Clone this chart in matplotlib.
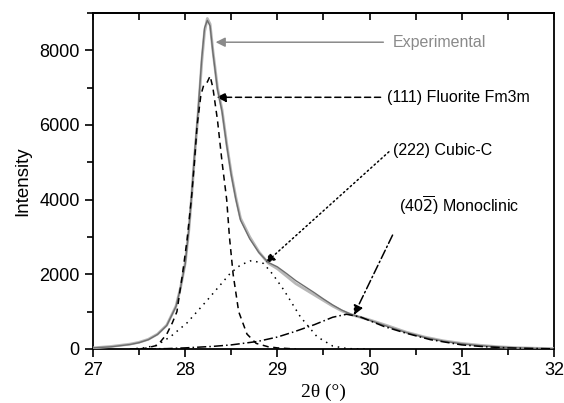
import matplotlib
matplotlib.use("Agg")
import matplotlib.pyplot as plt
from matplotlib.ticker import MultipleLocator

plt.rcParams['font.family'] = ['Liberation Sans', 'DejaVu Sans']

# Experimental profile
exp_x = [27.0, 27.2, 27.4, 27.5, 27.6, 27.7, 27.8, 27.9, 27.95, 28.0, 28.04, 28.07, 28.1,
         28.14, 28.18, 28.21, 28.24, 28.27, 28.3, 28.35, 28.4, 28.45, 28.5, 28.55, 28.6,
         28.7, 28.8, 28.9, 29.0, 29.1, 29.2, 29.3, 29.4, 29.5, 29.6, 29.7, 29.8, 29.9,
         30.0, 30.2, 30.4, 30.6, 30.8, 31.0, 31.2, 31.4, 31.6, 31.8, 32.0]
exp_y = [30, 70, 130, 180, 260, 400, 640, 1150, 1650, 2300, 3200, 4100, 5100,
         6300, 7700, 8500, 8850, 8700, 8000, 7000, 6400, 5500, 4700, 4050, 3500,
         3000, 2600, 2300, 2150, 1950, 1750, 1600, 1450, 1300, 1150, 1020, 920, 850,
         780, 620, 450, 320, 220, 150, 100, 60, 35, 20, 10]

# Fitted sum profile
fit_x = exp_x
fit_y = [30, 60, 120, 170, 250, 390, 630, 1140, 1650, 2280, 3200, 4150, 5200,
         6400, 7800, 8600, 8800, 8650, 7950, 6950, 6350, 5450, 4650, 4000, 3450,
         2950, 2580, 2320, 2200, 2020, 1830, 1670, 1510, 1340, 1180, 1040, 930, 850,
         770, 600, 440, 310, 210, 140, 90, 55, 30, 15, 8]

# (111) Fluorite Fm3m component
flu_x = [27.4, 27.55, 27.7, 27.8, 27.86, 27.91, 27.97, 28.02, 28.07, 28.1, 28.13,
         28.17, 28.2, 28.24, 28.27, 28.3, 28.35, 28.4, 28.45, 28.48, 28.52, 28.58,
         28.67, 28.77, 28.9, 29.0, 29.2]
flu_y = [0, 10, 100, 400, 700, 1000, 2000, 2920, 4100, 5000, 6000,
         6800, 7060, 7150, 7310, 7000, 6130, 5000, 4000, 3000, 2000, 1000,
         400, 150, 60, 30, 0]

# (222) Cubic-C component
cub_x = [27.4, 27.55, 27.69, 27.84, 28.02, 28.24, 28.49, 28.6, 28.72, 28.85, 28.95,
         29.07, 29.25, 29.43, 29.6, 29.76, 30.0]
cub_y = [0, 30, 100, 330, 700, 1310, 2030, 2250, 2370, 2290, 2000,
         1580, 860, 330, 80, 10, 0]

# (40-2) Monoclinic component
mon_x = [27.4, 27.8, 28.0, 28.3, 28.5, 28.78, 29.0, 29.18, 29.4, 29.6, 29.75, 29.9,
         30.16, 30.4, 30.66, 31.0, 31.25, 31.5, 31.75, 32.0]
mon_y = [0, 10, 30, 70, 110, 200, 320, 460, 650, 850, 930, 860,
         600, 420, 250, 110, 60, 30, 15, 5]

labels = ['Experimental', '(111) Fluorite Fm3m', '(222) Cubic-C',
          r'(40$\overline{2}$) Monoclinic']

fig = plt.figure(figsize=(5.64, 4.03), dpi=100)
ax = fig.add_axes([0.165, 0.134, 0.817, 0.834])

ax.plot(exp_x, exp_y, color='#b8b8b8', lw=2.0, zorder=3)
ax.plot(fit_x, fit_y, color='#6e6e6e', lw=1.0, zorder=4)
ax.plot(flu_x, flu_y, color='black', lw=1.1, dashes=(4, 3), zorder=5)
ax.plot(cub_x, cub_y, color='black', lw=1.1, dashes=(1, 3.2), zorder=5)
ax.plot(mon_x, mon_y, color='black', lw=1.1, dashes=(6, 2, 1, 2), zorder=5)

ax.set_xlim(27, 32)
ax.set_ylim(0, 9000)
ax.xaxis.set_major_locator(MultipleLocator(1))
ax.xaxis.set_minor_locator(MultipleLocator(0.5))
ax.yaxis.set_major_locator(MultipleLocator(2000))
ax.yaxis.set_minor_locator(MultipleLocator(1000))
ax.tick_params(which='major', direction='out', length=6, width=1.2, labelsize=13,
               top=False, right=False)
ax.tick_params(which='minor', direction='out', length=4, width=1.2, top=False, right=False)
for s in ax.spines.values():
    s.set_linewidth(1.3)

sec = ax.secondary_xaxis('top')
sec.xaxis.set_major_locator(MultipleLocator(1))
sec.xaxis.set_minor_locator(MultipleLocator(0.5))
sec.tick_params(which='both', direction='in', length=5, width=1.2, labeltop=False)
sec.spines['top'].set_linewidth(1.3)

ax.set_ylabel('Intensity', fontsize=13.5, labelpad=6)
ax.set_xlabel('2θ (°)', fontsize=14, family=['Liberation Serif', 'DejaVu Serif'], labelpad=3)

# Labels
ax.text(30.25, 8215, labels[0], fontsize=11.5, color='#8a8a8a', va='center', ha='left')
ax.text(30.19, 6740, labels[1], fontsize=11.5, color='black', va='center', ha='left')
ax.text(30.25, 5325, labels[2], fontsize=11.5, color='black', va='center', ha='left')
ax.text(30.32, 3850, labels[3], fontsize=11.5, color='black', va='center', ha='left')

# Arrows
def arrow(start, end, color, ls):
    ax.annotate('', xy=end, xytext=start,
                arrowprops=dict(arrowstyle='-|>', color=color, lw=1.1, linestyle=ls,
                                shrinkA=0, shrinkB=0, mutation_scale=14))

arrow((30.15, 8215), (28.33, 8215), '#8a8a8a', '-')
arrow((30.12, 6740), (28.34, 6740), 'black', (0, (4, 2.5)))
arrow((30.21, 5280), (28.87, 2300), 'black', (0, (1, 2)))
arrow((30.25, 3050), (29.83, 910), 'black', (0, (6, 2, 1, 2)))

fig.savefig('out.png', dpi=100)
